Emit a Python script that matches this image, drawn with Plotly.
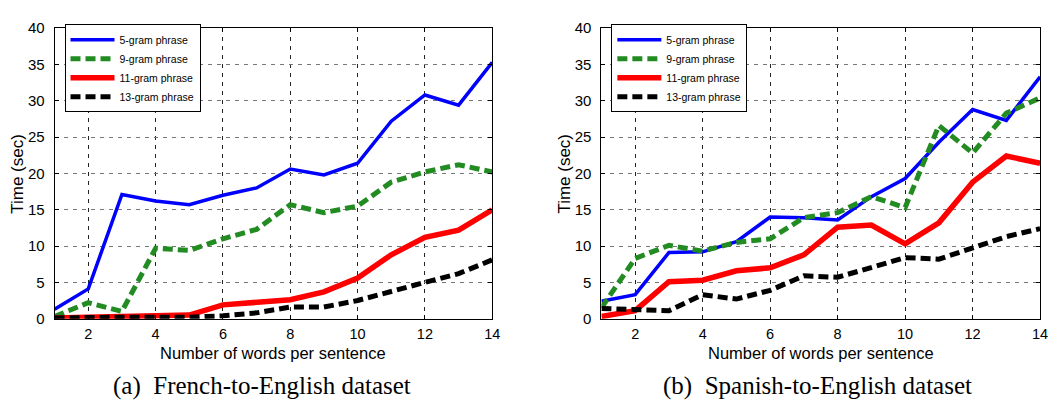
import plotly.graph_objects as go

# Sentence length (words per sentence)
words = list(range(1, 15))

# (a) French-to-English: decoding time in seconds
fr_5gram = [1.3, 4.1, 17.1, 16.2, 15.7, 17.0, 18.0, 20.6, 19.8, 21.4, 27.2, 30.8, 29.4, 35.3]
fr_9gram = [0.3, 2.2, 1.0, 9.7, 9.4, 11.0, 12.3, 15.7, 14.6, 15.5, 18.8, 20.2, 21.2, 20.2]
fr_11gram = [0.1, 0.2, 0.2, 0.3, 0.5, 1.9, 2.3, 2.6, 3.7, 5.6, 8.8, 11.2, 12.2, 15.0]
fr_13gram = [0.1, 0.2, 0.2, 0.2, 0.2, 0.4, 0.8, 1.6, 1.6, 2.5, 3.8, 5.0, 6.2, 8.1]

# (b) Spanish-to-English: decoding time in seconds
es_5gram = [2.4, 3.3, 9.1, 9.2, 10.6, 14.0, 13.9, 13.6, 16.8, 19.3, 24.3, 28.8, 27.3, 33.3]
es_9gram = [1.5, 8.3, 10.1, 9.3, 10.5, 11.0, 13.9, 14.6, 16.8, 15.3, 26.6, 22.8, 28.3, 30.4]
es_11gram = [0.3, 1.1, 5.1, 5.3, 6.6, 7.0, 8.8, 12.6, 12.9, 10.3, 13.2, 18.8, 22.4, 21.4]
es_13gram = [1.4, 1.2, 1.1, 3.3, 2.7, 3.9, 5.9, 5.7, 7.0, 8.4, 8.2, 9.7, 11.3, 12.4]

series_names = ["5-gram phrase", "9-gram phrase", "11-gram phrase", "13-gram phrase"]
x_ticks = [2, 4, 6, 8, 10, 12, 14]
y_ticks = [0, 5, 10, 15, 20, 25, 30, 35, 40]

styles = [
    dict(color="#0000FF", width=3.5, dash="solid"),
    dict(color="#228B22", width=5, dash="10px,5px"),
    dict(color="#FF0000", width=5.5, dash="solid"),
    dict(color="#000000", width=5, dash="10px,5px"),
]

W, H = 1061, 412
SANS = "Liberation Sans, Arial, sans-serif"
SERIF = "Liberation Serif, Times New Roman, serif"

fig = go.Figure()

panels = [
    ("x", "y", "legend", [fr_5gram, fr_9gram, fr_11gram, fr_13gram]),
    ("x2", "y2", "legend2", [es_5gram, es_9gram, es_11gram, es_13gram]),
]
for xa, ya, lg, data in panels:
    for name, vals, st in zip(series_names, data, styles):
        fig.add_trace(go.Scatter(
            x=words, y=vals, name=name, mode="lines",
            line=dict(color=st["color"], width=st["width"], dash=st["dash"]),
            xaxis=xa, yaxis=ya, legend=lg,
        ))

# Plot-area placement in pixels
left_a, right_a = 55, 496
left_b, right_b = 606, 1048
top_px, bottom_px = 20, 323
ydom = [1 - bottom_px / H, 1 - top_px / H]

axis_common = dict(
    showline=True, linecolor="black", linewidth=1, mirror="ticks",
    ticks="inside", ticklen=4, tickcolor="black", tickwidth=1,
    showgrid=True, zeroline=False,
)

xaxis_common = dict(axis_common, range=[1, 14], tickvals=x_ticks,
                    gridcolor="#222222", griddash="4px,5px", gridwidth=1,
                    ticklabelstandoff=2,
                    tickfont=dict(family=SANS, size=14.5, color="black"))
yaxis_common = dict(axis_common, range=[0, 40], tickvals=y_ticks,
                    gridcolor="#777777", griddash="4px,5px", gridwidth=1,
                    ticklabelstandoff=6,
                    tickfont=dict(family=SANS, size=15, color="black"))

fig.update_layout(
    width=W, height=H, autosize=False,
    margin=dict(l=0, r=0, t=0, b=0),
    paper_bgcolor="white", plot_bgcolor="white",
    xaxis=dict(xaxis_common, domain=[left_a / W, right_a / W], anchor="y"),
    yaxis=dict(yaxis_common, domain=ydom, anchor="x"),
    xaxis2=dict(xaxis_common, domain=[left_b / W, right_b / W], anchor="y2"),
    yaxis2=dict(yaxis_common, domain=ydom, anchor="x2"),
    showlegend=True,
)

legend_common = dict(
    xref="paper", yref="paper", xanchor="left", yanchor="top",
    bgcolor="white", bordercolor="black", borderwidth=1,
    font=dict(family=SANS, size=10.5, color="black"),
    tracegroupgap=0, itemwidth=44,
)
fig.update_layout(
    legend=dict(legend_common, x=(left_a + 10) / W, y=1 - 16 / H),
    legend2=dict(legend_common, x=(left_b + 10) / W, y=1 - 16 / H),
)

annotations = []
for (l, r, cap, shift) in [(left_a, right_a, "(a)  French-to-English dataset", -12),
                           (left_b, right_b, "(b)  Spanish-to-English dataset", -3)]:
    cx = (l + r) / 2
    annotations.append(dict(
        text="Number of words per sentence", x=cx / W, y=1 - 359 / H,
        xref="paper", yref="paper", xanchor="center", yanchor="middle",
        showarrow=False, font=dict(family=SANS, size=16.5, color="black"),
    ))
    annotations.append(dict(
        text="Time (sec)", x=(l - 37) / W, y=1 - 172 / H, textangle=-90,
        xref="paper", yref="paper", xanchor="center", yanchor="middle",
        showarrow=False, font=dict(family=SANS, size=17, color="black"),
    ))
    annotations.append(dict(
        text=cap, x=(cx + shift) / W, y=1 - 393 / H,
        xref="paper", yref="paper", xanchor="center", yanchor="middle",
        showarrow=False, font=dict(family=SERIF, size=25, color="black"),
    ))
fig.update_layout(annotations=annotations)

fig.write_html("out.html")
